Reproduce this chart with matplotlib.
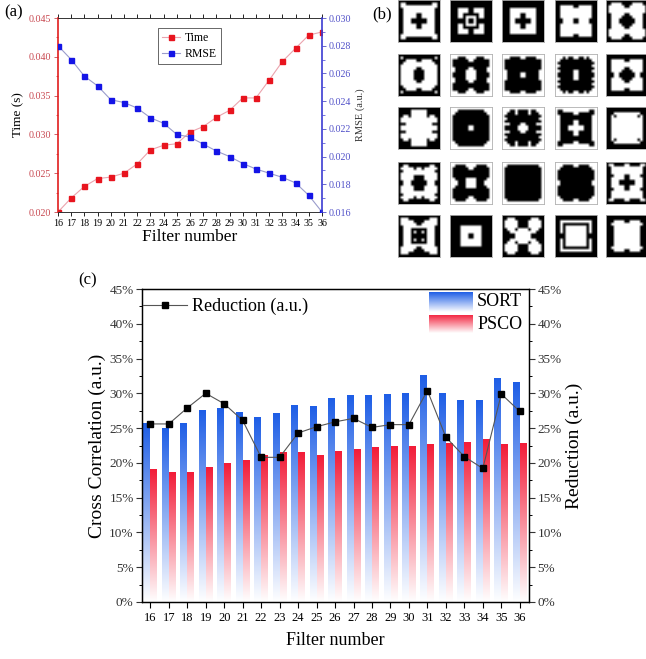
import numpy as np
import matplotlib
matplotlib.use('Agg')
import matplotlib.pyplot as plt
from matplotlib.colors import LinearSegmentedColormap
from matplotlib.ticker import FormatStrFormatter, PercentFormatter, MultipleLocator

plt.rcParams['font.family'] = ['Liberation Serif', 'DejaVu Serif']

W, H = 646, 659

# ---- data ----
filters = np.arange(16, 37)

time_s = [0.0200, 0.0218, 0.0233, 0.0243, 0.0245, 0.0250, 0.0262, 0.0280, 0.0286, 0.0288, 0.0303,
          0.0310, 0.0322, 0.0331, 0.0347, 0.0347, 0.0370, 0.0394, 0.0411, 0.0428, 0.0432]
rmse = [0.0280, 0.0270, 0.0258, 0.0251, 0.0241, 0.0239, 0.0235, 0.0228, 0.0224, 0.0216, 0.0214,
        0.0209, 0.0204, 0.0200, 0.0195, 0.0191, 0.0188, 0.0185, 0.0181, 0.0172, 0.0160]

sort_cc = [25.6, 24.9, 25.7, 27.6, 27.8, 27.3, 26.5, 27.1, 28.3, 28.1, 29.2,
           29.7, 29.7, 29.9, 30.0, 32.6, 30.0, 29.0, 28.9, 32.2, 31.5]
psco_cc = [19.1, 18.6, 18.6, 19.4, 19.9, 20.3, 21.0, 21.5, 21.5, 21.0, 21.6,
           21.9, 22.2, 22.3, 22.3, 22.6, 22.8, 22.9, 23.4, 22.6, 22.8]
reduction = [25.6, 25.6, 27.9, 30.0, 28.5, 26.1, 20.8, 20.8, 24.3, 25.2, 25.9,
             26.4, 25.1, 25.5, 25.5, 30.4, 23.7, 20.9, 19.2, 29.9, 27.4]

# upper-left quadrant (8x8) of each 16x16 filter, 1 = white, 0 = black
filter_quads = [
    "00000000 01100000 01111111 00111111 00111111 00111110 00111110 00111000",
    "00000000 00000000 00000000 00011110 00011110 00011000 00011011 00000010",
    "00000000 00000000 00000000 00011111 00011111 00011110 00011110 00011000",
    "00000000 00000000 00111110 00111111 00111111 00111111 00111111 00011110",
    "00000000 00111100 01111110 01111111 01111111 00111110 00111100 00111000",
    "00000000 01000000 00011110 00111111 01111111 01111110 01111100 01111100",
    "11111111 11100011 10000001 10000000 10000000 11000001 11000011 10000011",
    "11111111 11100001 10000000 10000000 10000000 10000000 11000000 11000001",
    "11111111 11101001 11000000 10000000 11000000 10000000 11000001 10000001",
    "00000000 00000000 00111110 00111111 00111111 00111110 00111100 00011000",
    "00000000 00000111 00000111 00110111 01111111 01111111 00011111 01111111",
    "11111111 11100000 11000000 10000000 10000000 10000000 10000000 10000001",
    "11111111 11100100 11000100 10000000 11000000 10000000 11100001 10000011",
    "11111111 10011111 10000001 11000000 11000000 11000001 11000001 11000111",
    "00000000 00000000 00011111 00101111 00111111 00111111 00111111 00111111",
    "00000000 00110000 01111101 00111111 01111111 01111100 01111100 00111000",
    "11111111 11000011 10000001 10000000 10000000 10000000 11000011 11100011",
    "11111111 11000000 10000000 10000000 10000000 10000000 10000000 10000000",
    "11111111 11100001 11000000 10000000 10000000 10000000 10000000 11000000",
    "00000000 01100001 00111111 00111111 00111111 00011110 00111110 00111000",
    "00000000 01110000 01111100 01111110 00111111 00111000 00111010 00111000",
    "00000000 00000000 00000000 00000000 00001111 00001111 00001111 00001110",
    "00000000 00111000 01111100 01111100 01111100 00111011 00011111 00000111",
    "00000000 00000000 00111111 00100000 00101111 00101111 00101111 00001111",
    "00000000 00000000 00011110 00111111 00011111 00011111 00011111 00011111",
]

fig = plt.figure(figsize=(W / 100, H / 100), dpi=100)

# ---- (a) ----
red, blue = '#e8141e', '#1414e6'
axa = fig.add_axes([58 / W, 1 - 212 / H, 264 / W, 194 / H])
axa2 = axa.twinx()
la, = axa.plot(filters, time_s, color='#eba3ad', lw=0.8, marker='s', ms=3.6,
               mfc=red, mec=red, label='Time')
lb, = axa2.plot(filters, rmse, color='#9a9ccc', lw=0.8, marker='s', ms=3.6,
                mfc=blue, mec=blue, label='RMSE')
axa.set_xlim(16, 36)
axa.set_ylim(0.020, 0.045)
axa2.set_ylim(0.016, 0.030)
axa.set_xticks(filters)
axa.yaxis.set_major_locator(MultipleLocator(0.005))
axa.yaxis.set_minor_locator(MultipleLocator(0.0025))
axa2.yaxis.set_major_locator(MultipleLocator(0.002))
axa2.yaxis.set_minor_locator(MultipleLocator(0.001))
axa.yaxis.set_major_formatter(FormatStrFormatter('%.3f'))
axa2.yaxis.set_major_formatter(FormatStrFormatter('%.3f'))
axa.tick_params(axis='x', labelsize=7.2, length=3, width=0.6, top=True, pad=2)
axa.tick_params(axis='y', labelsize=7.2, colors='#c84850', length=3, width=0.6, pad=2)
axa.tick_params(axis='y', which='minor', colors='#e01e1e', length=1.8, width=0.5)
axa2.tick_params(axis='y', labelsize=7.2, colors='#5050c8', length=3, width=0.6, pad=2)
axa2.tick_params(axis='y', which='minor', colors='#3c3cd2', length=1.8, width=0.5)
axa.spines['left'].set_color('#e01e1e')
axa.spines['left'].set_linewidth(1.2)
axa.spines['right'].set_visible(False)
axa2.spines['left'].set_visible(False)
axa2.spines['right'].set_color('#3c3cd2')
axa2.spines['right'].set_linewidth(1.2)
for s in ['top', 'bottom']:
    axa.spines[s].set_color('#333333')
    axa.spines[s].set_linewidth(0.7)
    axa2.spines[s].set_visible(False)
axa.set_xlabel('Filter number', fontsize=12.5, labelpad=1)
axa.set_ylabel('Time (s)', fontsize=9.5, labelpad=3)
axa2.set_ylabel('RMSE (a.u.)', fontsize=7.5, color='#333333', labelpad=3)
leg = axa.legend([la, lb], ['Time', 'RMSE'], loc='upper left', bbox_to_anchor=(0.379, 0.948),
                 fontsize=8.5, fancybox=False, edgecolor='#222222', handlelength=1.5,
                 handletextpad=0.4, borderaxespad=0, borderpad=0.35, labelspacing=0.3)
leg.get_frame().set_linewidth(0.6)

# ---- (b) ----
tile_x = [398, 450, 502, 555, 606]
tile_y = [0, 54, 107, 162, 215]
tile = 42
for k, quad in enumerate(filter_quads):
    r, c = divmod(k, 5)
    q = np.array([[int(ch) for ch in row] for row in quad.split()])
    top = np.hstack([q, q[:, ::-1]])
    img = np.vstack([top, top[::-1]])
    axt = fig.add_axes([tile_x[c] / W, 1 - (tile_y[r] + tile) / H, tile / W, tile / H])
    axt.imshow(img, cmap='gray', vmin=0, vmax=1, interpolation='bilinear')
    axt.set_xticks([])
    axt.set_yticks([])
    for s in axt.spines.values():
        s.set_color('#b0b0b0')
        s.set_linewidth(0.6)

# ---- (c) ----
cmap_b = LinearSegmentedColormap.from_list('sortb', ['#ffffff', '#1e5ee6'])
cmap_r = LinearSegmentedColormap.from_list('pscor', ['#ffffff', '#f21c38'])
grad = np.linspace(0, 1, 256).reshape(-1, 1)

axc = fig.add_axes([142 / W, 1 - 602 / H, 387 / W, 313 / H])
bars_s = axc.bar(filters - 0.19, sort_cc, width=0.37, color='none', edgecolor='none')
bars_p = axc.bar(filters + 0.19, psco_cc, width=0.37, color='none', edgecolor='none')
for bars, cm in [(bars_s, cmap_b), (bars_p, cmap_r)]:
    for b in bars:
        x0, w, h = b.get_x(), b.get_width(), b.get_height()
        axc.imshow(grad, cmap=cm, vmin=0, vmax=1, extent=[x0, x0 + w, 0, h],
                   aspect='auto', origin='lower', zorder=2)
axc.set_xlim(15.55, 36.5)
axc.set_ylim(0, 45)
axc.set_xticks(filters)
axc.yaxis.set_major_locator(MultipleLocator(5))
axc.yaxis.set_minor_locator(MultipleLocator(2.5))
axc.yaxis.set_major_formatter(PercentFormatter(decimals=0))
axc.tick_params(axis='x', labelsize=9, length=4, width=0.8, pad=3)
axc.tick_params(axis='y', labelsize=9.5, length=4, width=0.8, colors='#333333', pad=2)
axc.tick_params(axis='y', which='minor', length=2.2, width=0.7)
axc.set_xlabel('Filter number', fontsize=13, labelpad=6)
axc.set_ylabel('Cross Correlation (a.u.)', fontsize=14, labelpad=2)

axc2 = axc.twinx()
axc2.plot(filters, reduction, color='#555555', lw=0.8, marker='s', ms=4.6,
          mfc='black', mec='black', label='Reduction (a.u.)')
axc2.set_ylim(0, 45)
axc2.yaxis.set_major_locator(MultipleLocator(5))
axc2.yaxis.set_minor_locator(MultipleLocator(2.5))
axc2.yaxis.set_major_formatter(PercentFormatter(decimals=0))
axc2.tick_params(axis='y', labelsize=9.5, length=4, width=0.8, colors='#333333', pad=2)
axc2.tick_params(axis='y', which='minor', length=2.2, width=0.7)
axc2.set_ylabel('Reduction (a.u.)', fontsize=14, labelpad=3)
for a in (axc, axc2):
    for s in a.spines.values():
        s.set_linewidth(0.9)
axc2.legend(loc='upper left', bbox_to_anchor=(-0.02, 1.0), frameon=False, fontsize=13,
            handlelength=2.4, handletextpad=0.3, borderaxespad=0.1)

for name, cm, y0, y1 in [('SORT', cmap_b, 0.927, 0.990), ('PSCO', cmap_r, 0.859, 0.917)]:
    axl = axc.inset_axes([0.742, y0, 0.113, y1 - y0])
    axl.imshow(grad, cmap=cm, vmin=0, vmax=1, aspect='auto', origin='lower')
    axl.axis('off')
    axc.text(0.866, (y0 + y1) / 2, name, transform=axc.transAxes, fontsize=13, va='center')

# panel labels
fig.text(4 / W, 1 - 4 / H, '(a)', fontsize=12, va='top')
fig.text(372 / W, 1 - 6 / H, '(b)', fontsize=12, va='top')
fig.text(78 / W, 1 - 272 / H, '(c)', fontsize=12, va='top')

fig.savefig('out.png', dpi=100)
